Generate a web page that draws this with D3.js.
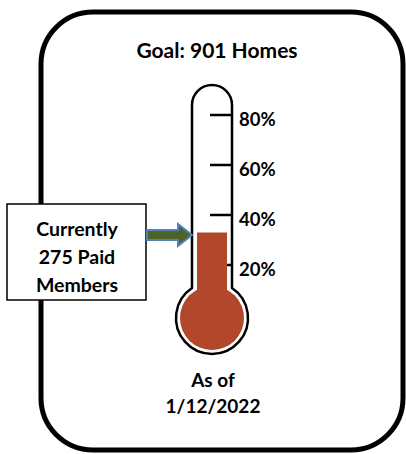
<!DOCTYPE html>
<html>
<head>
<meta charset="utf-8">
<script src="https://cdn.jsdelivr.net/npm/d3@7"></script>
<style>
  body { margin: 0; background: #fff; }
  text { font-family: Lato, "Open Sans", sans-serif; font-weight: bold; fill: #000; }
</style>
</head>
<body>
<script>
var w = 406;
var h = 454;

// data
var goal = 901;
var members = 275;
var fillPercent = 33;          // level of the red column, in %
var tickValues = [20, 40, 60, 80];
var titleText = "Goal: " + goal + " Homes";
var boxLines = ["Currently", members + " Paid", "Members"];
var dateLines = ["As of", "1/12/2022"];

var red = "#b2472b";

var svg = d3.select("body")
    .append("svg")
    .attr("width", w)
    .attr("height", h);

// outer frame
svg.append("rect")
    .attr("x", 41).attr("y", 12)
    .attr("width", 362).attr("height", 438)
    .attr("rx", 52).attr("ry", 52)
    .attr("fill", "#fff")
    .attr("stroke", "#000")
    .attr("stroke-width", 5);

svg.append("text")
    .attr("x", 217).attr("y", 58)
    .attr("text-anchor", "middle")
    .attr("font-size", "21px")
    .text(titleText);

// percent scale for the tube
var cx = 212;
var yScale = d3.scaleLinear()
    .domain([0, 80])
    .range([315, 115]);

// thermometer outline
var tubeL = cx - 20, tubeR = cx + 20, neckY = 288, bulbR = 36;
svg.append("path")
    .attr("d", "M" + tubeL + "," + neckY +
        " L" + tubeL + ",105" +
        " A20,20 0 0 1 " + tubeR + ",105" +
        " L" + tubeR + "," + neckY +
        " A" + bulbR + "," + bulbR + " 0 1 1 " + tubeL + "," + neckY + " Z")
    .attr("fill", "#fff")
    .attr("stroke", "#000")
    .attr("stroke-width", 2.5);

// ticks (drawn under the fill)
svg.selectAll("line.tick")
    .data(tickValues)
    .enter()
    .append("line")
    .attr("class", "tick")
    .attr("x1", cx - 2).attr("x2", tubeR)
    .attr("y1", function(d) { return yScale(d); })
    .attr("y2", function(d) { return yScale(d); })
    .attr("stroke", "#000")
    .attr("stroke-width", 2.5);

// red column + bulb
svg.append("rect")
    .attr("x", cx - 15)
    .attr("y", yScale(fillPercent))
    .attr("width", 30)
    .attr("height", 300 - yScale(fillPercent))
    .attr("fill", red);
svg.append("circle")
    .attr("cx", cx).attr("cy", 318)
    .attr("r", 32)
    .attr("fill", red);
svg.append("path")
    .attr("d", "M" + (cx - 15) + ",288 L" + (cx - 15) + ",292 Q" + (cx - 16) + ",296 " + (cx - 22) + ",296 L" + (cx + 22) + ",296 Q" + (cx + 16) + ",296 " + (cx + 15) + ",292 L" + (cx + 15) + ",288 Z")
    .attr("fill", red);

svg.selectAll("text.tlabel")
    .data(tickValues)
    .enter()
    .append("text")
    .attr("class", "tlabel")
    .attr("x", 239)
    .attr("y", function(d) { return yScale(d) + 11; })
    .attr("font-size", "18.5px")
    .text(function(d) { return d + "%"; });

// date
svg.selectAll("text.date")
    .data(dateLines)
    .enter()
    .append("text")
    .attr("class", "date")
    .attr("x", 213)
    .attr("y", function(d, i) { return 387 + i * 26; })
    .attr("text-anchor", "middle")
    .attr("font-size", "19px")
    .text(function(d) { return d; });

// callout box
svg.append("rect")
    .attr("x", 7).attr("y", 204)
    .attr("width", 139).attr("height", 96)
    .attr("fill", "#fff")
    .attr("stroke", "#000")
    .attr("stroke-width", 1.5);

svg.selectAll("text.box")
    .data(boxLines)
    .enter()
    .append("text")
    .attr("class", "box")
    .attr("x", 77)
    .attr("y", function(d, i) { return 236 + i * 28; })
    .attr("text-anchor", "middle")
    .attr("font-size", "19.5px")
    .text(function(d) { return d; });

// arrow
var ay = 235;
svg.append("path")
    .attr("d", "M147," + (ay - 5) + " L178," + (ay - 5) + " L178," + (ay - 11) +
        " L192," + ay + " L178," + (ay + 11) + " L178," + (ay + 5) +
        " L147," + (ay + 5) + " Z")
    .attr("fill", "#4f6228")
    .attr("stroke", "#4f81bd")
    .attr("stroke-width", 2);
</script>
</body>
</html>
